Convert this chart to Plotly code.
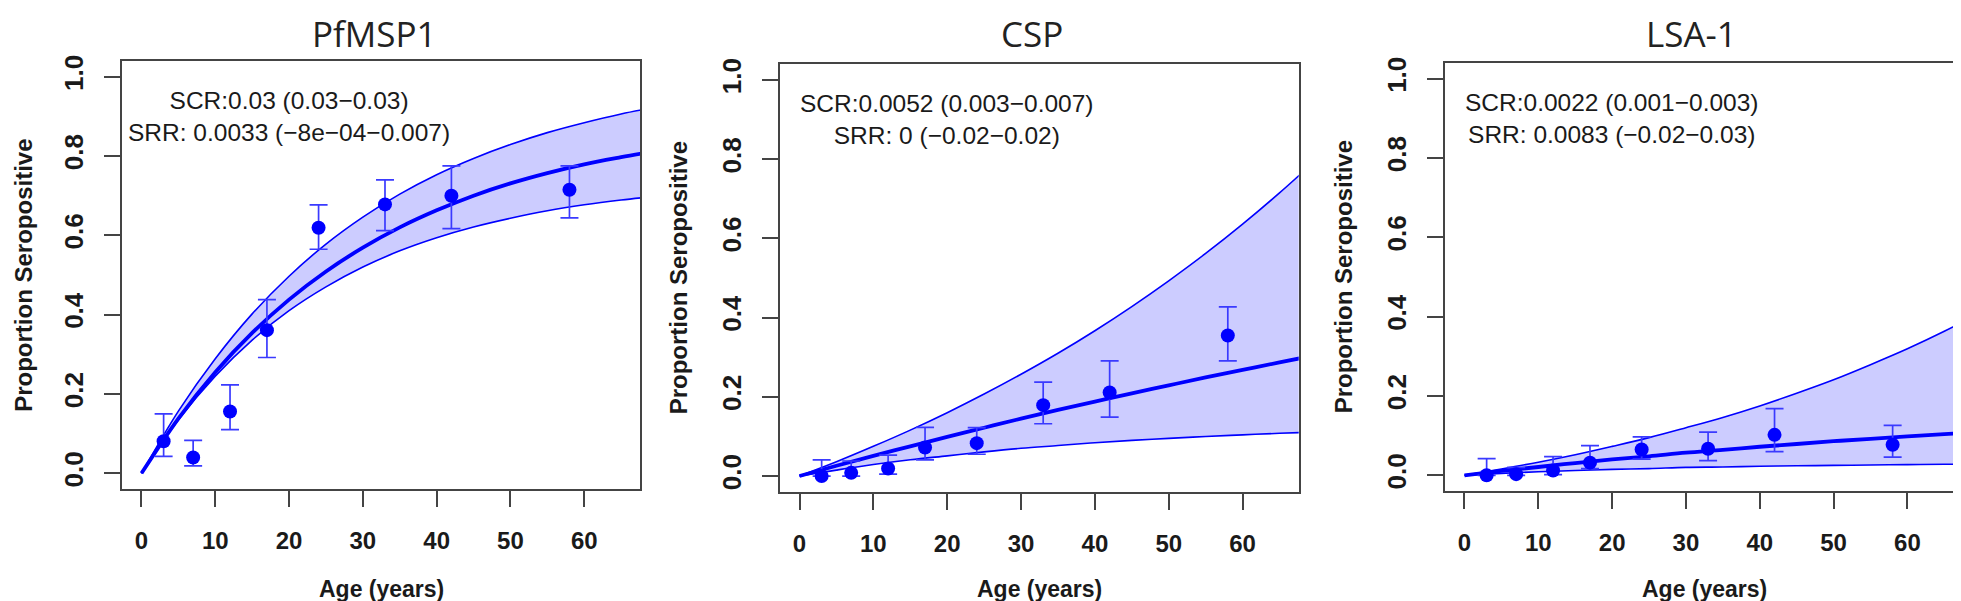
import plotly.graph_objects as go

# edades de los grupos y puntos donde se leyeron las curvas
ages = [3, 7, 12, 17, 24, 33, 42, 58]
curve_age = [0, 5, 10, 15, 20, 25, 30, 35, 40, 45, 50, 55, 60, 65, 68]

titles = ['PfMSP1', 'CSP', 'LSA-1']
scr_text = ['SCR:0.03 (0.03−0.03)', 'SCR:0.0052 (0.003−0.007)', 'SCR:0.0022 (0.001−0.003)']
srr_text = ['SRR: 0.0033 (−8e−04−0.007)', 'SRR: 0 (−0.02−0.02)', 'SRR: 0.0083 (−0.02−0.03)']

# PfMSP1
msp1_prop = [0.081, 0.040, 0.156, 0.361, 0.619, 0.678, 0.700, 0.715]
msp1_hi = [0.150, 0.083, 0.223, 0.438, 0.677, 0.740, 0.775, 0.775]
msp1_lo = [0.043, 0.019, 0.110, 0.292, 0.565, 0.612, 0.617, 0.644]
msp1_fit = [0, 0.138, 0.255, 0.354, 0.438, 0.509, 0.569, 0.620, 0.663, 0.700, 0.731, 0.757, 0.779, 0.797, 0.807]
msp1_fit_hi = [0, 0.157, 0.289, 0.402, 0.497, 0.578, 0.646, 0.704, 0.753, 0.794, 0.829, 0.859, 0.884, 0.906, 0.917]
msp1_fit_lo = [0, 0.135, 0.245, 0.336, 0.410, 0.470, 0.520, 0.561, 0.594, 0.621, 0.643, 0.662, 0.677, 0.689, 0.695]

# CSP
csp_prop = [0.0, 0.008, 0.019, 0.072, 0.083, 0.179, 0.211, 0.355]
csp_hi = [0.041, 0.038, 0.053, 0.123, 0.122, 0.237, 0.291, 0.427]
csp_lo = [0.0, 0.0, 0.005, 0.041, 0.055, 0.132, 0.149, 0.291]
csp_fit = [0, 0.026, 0.051, 0.075, 0.099, 0.122, 0.145, 0.167, 0.188, 0.209, 0.229, 0.249, 0.268, 0.287, 0.298]
csp_fit_hi = [0, 0.036, 0.075, 0.116, 0.160, 0.207, 0.257, 0.310, 0.367, 0.428, 0.493, 0.562, 0.636, 0.715, 0.765]
csp_fit_lo = [0, 0.015, 0.029, 0.041, 0.051, 0.061, 0.070, 0.077, 0.084, 0.090, 0.095, 0.100, 0.104, 0.108, 0.110]

# LSA-1
lsa_prop = [0.0, 0.003, 0.012, 0.032, 0.065, 0.067, 0.102, 0.077]
lsa_hi = [0.042, 0.020, 0.047, 0.075, 0.097, 0.109, 0.168, 0.126]
lsa_lo = [0.0, 0.0, 0.002, 0.017, 0.041, 0.037, 0.060, 0.046]
lsa_fit = [0, 0.011, 0.021, 0.031, 0.040, 0.048, 0.057, 0.064, 0.072, 0.079, 0.086, 0.092, 0.098, 0.104, 0.107]
lsa_fit_hi = [0, 0.016, 0.033, 0.052, 0.073, 0.095, 0.120, 0.146, 0.175, 0.207, 0.241, 0.279, 0.319, 0.363, 0.392]
lsa_fit_lo = [0, 0.005, 0.009, 0.012, 0.015, 0.017, 0.020, 0.021, 0.023, 0.024, 0.025, 0.026, 0.027, 0.028, 0.028]

panels = [
    (msp1_prop, msp1_hi, msp1_lo, msp1_fit, msp1_fit_hi, msp1_fit_lo),
    (csp_prop, csp_hi, csp_lo, csp_fit, csp_fit_hi, csp_fit_lo),
    (lsa_prop, lsa_hi, lsa_lo, lsa_fit, lsa_fit_hi, lsa_fit_lo),
]

W, H = 1961, 601
# cajas de cada panel en pixeles (izq, der, arriba, abajo)
boxes = [(114.3, 632.3, 47.3, 480.0), (772.3, 1290.7, 50.7, 482.7), (1437.3, 1955.5, 49.3, 482.0)]
title_x = [366, 1024, 1683]
ylab_off = [99.5, 102, 101]

BLUE = '#0000ff'
AXC = '#444444'
TXT = '#1a1a1a'
ARIAL = 'Liberation Sans, Arial'

fig = go.Figure()
layout = {}
annotations = []

for i, (prop, hi, lo, fit, fit_hi, fit_lo) in enumerate(panels):
    n = '' if i == 0 else str(i + 1)
    xa, ya = 'x' + n, 'y' + n

    # banda de confianza
    fig.add_trace(go.Scatter(x=curve_age, y=fit_lo, mode='lines', line=dict(color=BLUE, width=1.6, shape='spline'),
                             xaxis=xa, yaxis=ya, showlegend=False, hoverinfo='skip'))
    fig.add_trace(go.Scatter(x=curve_age, y=fit_hi, mode='lines', line=dict(color=BLUE, width=1.6, shape='spline'),
                             fill='tonexty', fillcolor='rgba(0,0,255,0.2)',
                             xaxis=xa, yaxis=ya, showlegend=False, hoverinfo='skip'))
    # curva ajustada
    fig.add_trace(go.Scatter(x=curve_age, y=fit, mode='lines', line=dict(color=BLUE, width=3.8, shape='spline'),
                             xaxis=xa, yaxis=ya, showlegend=False))
    # proporciones observadas con IC
    fig.add_trace(go.Scatter(
        x=ages, y=prop, mode='markers',
        marker=dict(color=BLUE, size=14),
        error_y=dict(type='data', array=[h - p for h, p in zip(hi, prop)],
                     arrayminus=[p - l for p, l in zip(prop, lo)],
                     color='#3a3aff', thickness=1.7, width=9),
        xaxis=xa, yaxis=ya, showlegend=False))

    l, r, t, b = boxes[i]
    layout['xaxis' + n] = dict(
        domain=[l / W, r / W], range=[-2.6, 67.6], anchor=ya,
        tickvals=[0, 10, 20, 30, 40, 50, 60], ticks='outside', ticklen=16, tickwidth=1.6, tickcolor=AXC,
        showline=True, mirror=True, linecolor=AXC, linewidth=2, showgrid=False, zeroline=False,
        tickfont=dict(family=ARIAL, size=24, color=TXT, weight='bold'),
        ticklabelstandoff=13)
    layout['yaxis' + n] = dict(
        domain=[1 - b / H, 1 - t / H], range=[-0.04, 1.04], anchor=xa,
        tickvals=[0, 0.2, 0.4, 0.6, 0.8, 1.0], ticktext=['0.0', '0.2', '0.4', '0.6', '0.8', '1.0'],
        tickangle=-90, ticks='outside', ticklen=16, tickwidth=1.6, tickcolor=AXC,
        showline=True, mirror=True, linecolor=AXC, linewidth=2, showgrid=False, zeroline=False,
        tickfont=dict(family=ARIAL, size=26, color=TXT, weight='bold'),
        ticklabelstandoff=11)

    # titulo del panel
    annotations.append(dict(x=title_x[i] / W, y=1 - 20 / H, xref='paper', yref='paper', text=titles[i],
                            showarrow=False, xanchor='center', yanchor='middle',
                            font=dict(family='Open Sans', size=35, color='#222222')))
    # SCR / SRR
    annotations.append(dict(x=20, y=0.9, xref=xa, yref=ya, text=scr_text[i] + '<br>' + srr_text[i],
                            showarrow=False, xanchor='center', yanchor='middle', align='center',
                            font=dict(family=ARIAL, size=24.5, color=TXT)))
    # etiquetas de ejes
    annotations.append(dict(x=(l + r) / 2 / W, y=1 - 581 / H, xref='paper', yref='paper', text='Age (years)',
                            showarrow=False, xanchor='center', yanchor='middle',
                            font=dict(family=ARIAL, size=23, color=TXT, weight='bold')))
    annotations.append(dict(x=(l - ylab_off[i]) / W, y=1 - (t + b) / 2 / H, xref='paper', yref='paper',
                            text='Proportion Seropositive', textangle=-90,
                            showarrow=False, xanchor='center', yanchor='middle',
                            font=dict(family=ARIAL, size=24, color=TXT, weight='bold')))

fig.update_layout(**layout)
fig.update_layout(
    annotations=annotations,
    width=W, height=H,
    margin=dict(l=0, r=0, t=0, b=0),
    paper_bgcolor='white', plot_bgcolor='white',
    showlegend=False,
)

fig.write_html('out.html')
